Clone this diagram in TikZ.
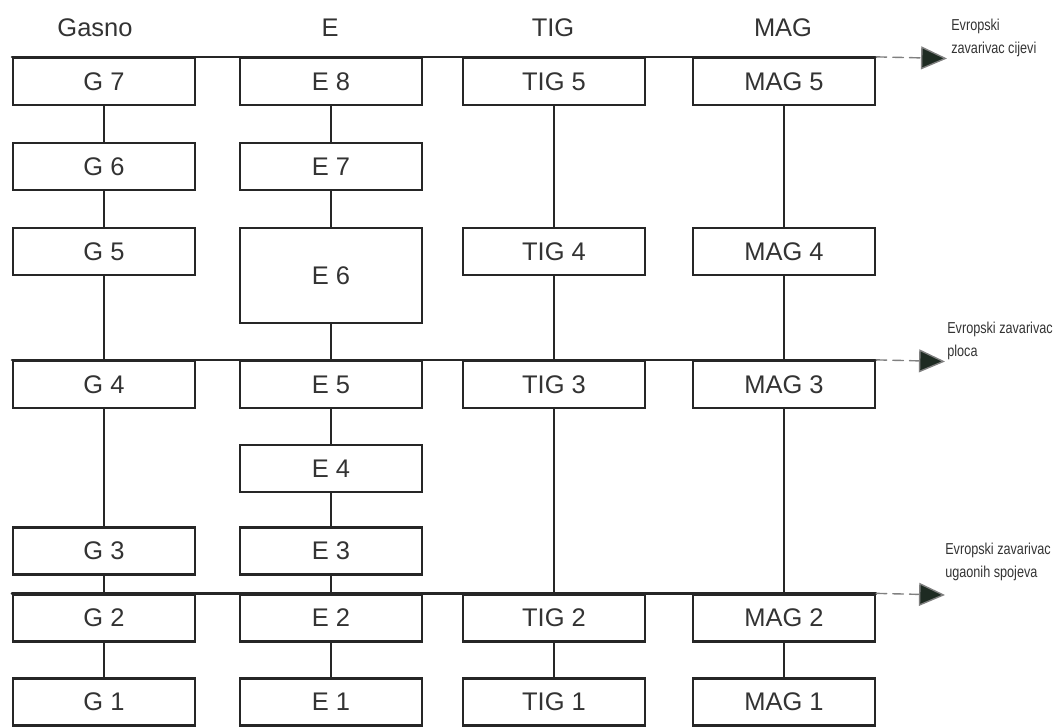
\documentclass[tikz,border=0pt]{standalone}
\usepackage{fontspec}
\setmainfont{Liberation Sans}
\usetikzlibrary{arrows.meta}
\definecolor{tipcol}{HTML}{1E2B22}

\begin{document}
\begin{tikzpicture}[x=.02cm, y=-.02cm, line cap=round,
  level/.style={draw=black!85, line width=1.3pt, fill=white, minimum width=3.64cm,
    minimum height=.94cm, inner sep=0pt, font=\fontsize{14.5}{16}\selectfont, text=black!80},
  head/.style={font=\fontsize{14.5}{16}\selectfont, text=black!80},
  link/.style={draw=black!85, line width=1.3pt},
  cert/.style={draw=gray, line width=.8pt, dash pattern=on 6pt off 3.5pt,
    -{Triangle[length=.52cm, width=.46cm, fill=tipcol]}},
  note/.style={align=left, anchor=west, inner sep=0pt, xscale=.8,
    font=\fontsize{9}{13}\selectfont, text=black!80}]
  \useasboundingbox (0,0) rectangle (1060,726);

  \node[head] (hG) at (95,28) {Gasno};
  \node[head] (hE) at (330,28) {E};
  \node[head] (hT) at (553,28) {TIG};
  \node[head] (hM) at (783,28) {MAG};

  \node[level] (G7) at (104,81.5) {G 7};
  \node[level] (G6) at (104,166.5) {G 6};
  \node[level] (G5) at (104,251.5) {G 5};
  \node[level] (G4) at (104,384.5) {G 4};
  \node[level] (G3) at (104,551) {G 3};
  \node[level] (G2) at (104,618) {G 2};
  \node[level] (G1) at (104,702) {G 1};

  \node[level] (E8) at (331,81.5) {E 8};
  \node[level] (E7) at (331,166.5) {E 7};
  \node[level, minimum height=1.9cm] (E6) at (331,275.5) {E 6};
  \node[level] (E5) at (331,384.5) {E 5};
  \node[level] (E4) at (331,468.5) {E 4};
  \node[level] (E3) at (331,551) {E 3};
  \node[level] (E2) at (331,618) {E 2};
  \node[level] (E1) at (331,702) {E 1};

  \node[level] (T5) at (554,81.5) {TIG 5};
  \node[level] (T4) at (554,251.5) {TIG 4};
  \node[level] (T3) at (554,384.5) {TIG 3};
  \node[level] (T2) at (554,618) {TIG 2};
  \node[level] (T1) at (554,702) {TIG 1};

  \node[level] (M5) at (784,81.5) {MAG 5};
  \node[level] (M4) at (784,251.5) {MAG 4};
  \node[level] (M3) at (784,384.5) {MAG 3};
  \node[level] (M2) at (784,618) {MAG 2};
  \node[level] (M1) at (784,702) {MAG 1};

  \draw[link] (G7) -- (G6) -- (G5) -- (G4) -- (G3) -- (G2) -- (G1);
  \draw[link] (E8) -- (E7) -- (E6) -- (E5) -- (E4) -- (E3) -- (E2) -- (E1);
  \draw[link] (T5) -- (T4) -- (T3) -- (T2) -- (T1);
  \draw[link] (M5) -- (M4) -- (M3) -- (M2) -- (M1);

  \coordinate (cijevi) at (947,58.5);
  \coordinate (ploca) at (945,361.5);
  \coordinate (ugaoni) at (945,595);
  \draw[link] (G7.north west) -- (M5.north east);
  \draw[link] (G4.north west) -- (M3.north east);
  \draw[link] (G2.north west) -- (M2.north east);
  \draw[cert] (M5.north east) -- (cijevi);
  \draw[cert] (M3.north east) -- (ploca);
  \draw[cert] (M2.north east) -- (ugaoni);

  \node[note] (nCij) at (951,38) {Evropski\\zavarivac cijevi};
  \node[note] (nPlo) at (947,341) {Evropski zavarivac\\ploca};
  \node[note] (nUga) at (945,562) {Evropski zavarivac\\ugaonih spojeva};
\end{tikzpicture}
\end{document}
